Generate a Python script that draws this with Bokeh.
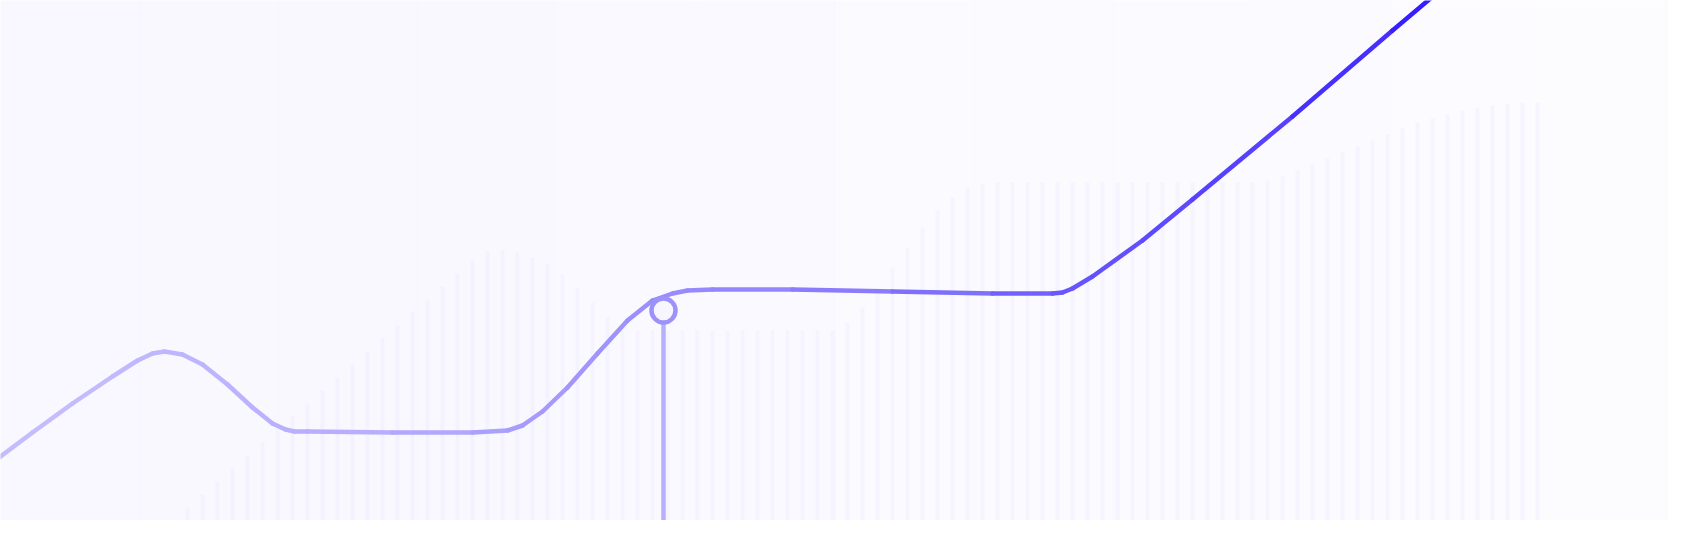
import numpy as np
from bokeh.plotting import figure
from bokeh.models import Range1d
from bokeh.embed import file_html
from bokeh.resources import INLINE

# background bars (x position, top in screen units)
bar_x = list(range(180, 1546, 15))
bar_top = ([528, 515, 502, 489, 476, 463, 450, 437, 424, 411, 398, 385, 372, 359, 346,
            333, 320, 307, 294, 281, 268, 258]
           + [258, 260, 265, 272, 282, 295, 310, 325]
           + [338] * 15
           + [330, 315, 295, 275, 255, 235, 218, 205, 196, 191]
           + [190] * 18
           + [188, 184, 178, 172, 166, 160, 154, 148, 142, 136, 130, 126, 122, 118,
              115, 113, 111, 110, 110])

# main curve
line_x = [0, 40, 80, 120, 145, 160, 172, 190, 210, 235, 260, 280, 293, 302, 315,
          400, 480, 515, 530, 550, 575, 605, 635, 660, 680, 695, 720, 800, 900,
          1000, 1060, 1070, 1080, 1100, 1150, 1200, 1300, 1400, 1445, 1460]
line_y = [470, 440, 411, 384, 368, 361, 359, 362, 372, 392, 415, 431, 437, 439, 439,
          440, 440, 438, 433, 419, 395, 361, 328, 308, 301, 298, 297, 297, 299,
          301, 301, 300, 296, 284, 248, 207, 124, 38, 0, -12]

marker_x = [671]
marker_y = [318]

p = figure(width=1668, height=520, output_backend="svg", toolbar_location=None,
           x_range=Range1d(8, 1676), y_range=Range1d(528, 8))
p.axis.visible = False
p.grid.visible = False
p.outline_line_color = None
p.min_border = 0
p.background_fill_color = "#fcfcff"
p.border_fill_color = "#fcfcff"

# soft left-to-right background fade
for i in range(12):
    x0 = 8 + i * 139
    a = 0.6 * (1 - i / 11)
    p.quad(left=x0, right=x0 + 140, bottom=528, top=8, fill_color="#f6f4ff",
           fill_alpha=a, line_color=None)

p.vbar(x=bar_x, top=bar_top, bottom=536, width=4, fill_color="#ebe8ff",
       fill_alpha=0.35, line_color=None)

# gradient-coloured line as segments
c0 = np.array([0xc4, 0xbd, 0xfd])
c1 = np.array([0x2e, 0x14, 0xff])
xs, ys, cols = [], [], []
for i in range(len(line_x) - 1):
    t = (line_x[i] / 1460) ** 1.6
    c = (c0 * (1 - t) + c1 * t).astype(int)
    xs.append([line_x[i], line_x[i + 1]])
    ys.append([line_y[i], line_y[i + 1]])
    cols.append("#%02x%02x%02x" % tuple(c))
p.multi_line(xs, ys, line_color=cols, line_width=4.5, line_cap="round", line_join="round")

p.segment(x0=marker_x, y0=marker_y, x1=marker_x, y1=[540], line_color="#b7aefc",
          line_width=4.5)
p.scatter(marker_x, marker_y, size=24, fill_color="#f7f6ff", line_color="#9d92fb",
          line_width=4.5)

open("out.html", "w").write(file_html(p, INLINE))
